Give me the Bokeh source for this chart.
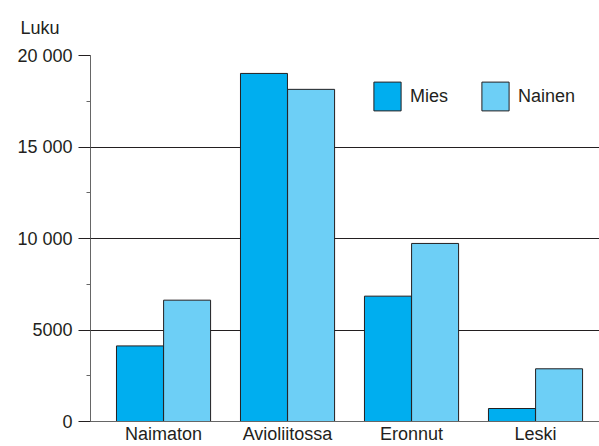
from bokeh.plotting import figure
from bokeh.models import FixedTicker, Legend, LegendItem, Range1d, ColumnDataSource
from bokeh.embed import file_html
from bokeh.resources import INLINE

categories = ["Naimaton", "Avioliitossa", "Eronnut", "Leski"]
mies = [4130, 19020, 6850, 710]
nainen = [6630, 18150, 9730, 2880]
y_ticks = [0, 5000, 10000, 15000, 20000]
y_tick_labels = ["0", "5000", "10 000", "15 000", "20 000"]
series_names = ["Mies", "Nainen"]

FONT = "Liberation Sans"
FS = "18px"
TXT = "#231F20"
idx = list(range(len(categories)))

p = figure(width=599, height=446, output_backend="svg", toolbar_location=None,
           x_range=Range1d(-0.589, 3.516), y_range=Range1d(0, 20000),
           min_border_left=90, min_border_right=0, min_border_top=55, min_border_bottom=23)
p.outline_line_color = None
p.background_fill_color = "white"
p.border_fill_color = "white"

p.title.text = "Luku"
p.title.text_font = FONT
p.title.text_font_size = FS
p.title.text_font_style = "normal"
p.title.text_color = TXT
p.title.align = "left"
p.title.vertical_align = "top"
p.title.offset = -70
p.title.standoff = 32

src_m = ColumnDataSource(dict(x=[i - 0.19 for i in idx], top=mies))
src_n = ColumnDataSource(dict(x=[i + 0.19 for i in idx], top=nainen))
r1 = p.vbar(x="x", top="top", width=0.379, source=src_m, fill_color="#00AEEF", line_color=TXT, line_width=1)
r2 = p.vbar(x="x", top="top", width=0.379, source=src_n, fill_color="#6DCFF6", line_color=TXT, line_width=1)

# y axis
ya = p.yaxis[0]
ya.ticker = FixedTicker(ticks=y_ticks, minor_ticks=[2500, 7500, 12500, 17500])
ya.major_label_overrides = {t: l for t, l in zip(y_ticks, y_tick_labels)}
ya.major_tick_out = 12
ya.major_tick_in = 0
ya.minor_tick_out = 4
ya.minor_tick_in = 0
ya.axis_line_color = "#666666"
ya.major_tick_line_color = TXT
ya.minor_tick_line_color = "#666666"
ya.major_label_text_font = FONT
ya.major_label_text_font_size = FS
ya.major_label_text_color = TXT
ya.major_label_standoff = 6

# x axis
xa = p.xaxis[0]
xa.ticker = FixedTicker(ticks=idx)
xa.major_label_overrides = {i: c for i, c in zip(idx, categories)}
xa.major_tick_out = 0
xa.major_tick_in = 0
xa.minor_tick_out = 0
xa.minor_tick_in = 0
xa.axis_line_color = "#666666"
xa.major_label_text_font = FONT
xa.major_label_text_font_size = FS
xa.major_label_text_color = TXT
xa.major_label_standoff = 2

p.xgrid.grid_line_color = None
p.ygrid.ticker = FixedTicker(ticks=y_ticks)
p.ygrid.grid_line_color = TXT
p.ygrid.grid_line_width = 1

legend = Legend(items=[LegendItem(label=series_names[0], renderers=[r1]),
                       LegendItem(label=series_names[1], renderers=[r2])],
                orientation="horizontal", location=(280, 307),
                glyph_width=34, glyph_height=36, label_standoff=6, spacing=30,
                padding=0, margin=0, border_line_color=None, background_fill_alpha=0,
                label_text_font=FONT, label_text_font_size=FS, label_text_color=TXT,
                label_text_baseline="top", label_height=36)
p.add_layout(legend)

open("out.html", "w").write(file_html(p, INLINE))
